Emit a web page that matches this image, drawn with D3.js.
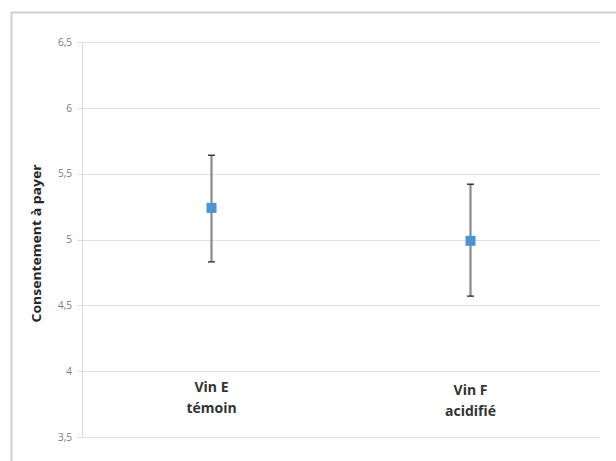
<!DOCTYPE html>
<html><head><meta charset="utf-8">
<script src="https://cdn.jsdelivr.net/npm/d3@7"></script>
<style>body{margin:0;background:#fff}</style>
</head><body>
<svg id="c" width="616" height="461"></svg>
<script>
const categories = [["Vin E","témoin"],["Vin F","acidifié"]];
const means = [5.24, 4.99];
const upper = [5.64, 5.42];
const lower = [4.83, 4.57];
const yTicks = [3.5, 4, 4.5, 5, 5.5, 6, 6.5];
const yTitle = "Consentement à payer";

const svg = d3.select("#c");
const m = {left: 82, right: 600, top: 42, bottom: 437};
const x = d3.scaleBand().domain(d3.range(categories.length)).range([m.left, m.right]);
const y = d3.scaleLinear().domain([3.5, 6.5]).range([m.bottom, m.top]);
const fmt = d => String(d).replace(".", ",");

// frame
svg.append("line").attr("x1",11.5).attr("x2",11.5).attr("y1",12).attr("y2",461).attr("stroke","#cfcfcf").attr("stroke-width",2);
svg.append("line").attr("x1",11).attr("x2",616).attr("y1",12.5).attr("y2",12.5).attr("stroke","#d0d0d0").attr("stroke-width",2);

// grid
svg.append("g").selectAll("line").data(yTicks).join("line")
  .attr("x1", m.left - 5).attr("x2", m.right)
  .attr("y1", d => Math.round(y(d)) + 0.5).attr("y2", d => Math.round(y(d)) + 0.5)
  .attr("stroke", "#e2e2e2").attr("stroke-width", 1.2);

// y axis
const ya = svg.append("g").attr("transform", `translate(${m.left},0)`)
  .call(d3.axisLeft(y).tickValues(yTicks).tickFormat(fmt).tickSize(0).tickPadding(10));
ya.select(".domain").attr("stroke", "#d9d9d9");
ya.selectAll("text").attr("font-family", "'Open Sans', sans-serif").attr("font-size", 10).attr("fill", "#7a7a7a");

// title
svg.append("text").attr("transform", `translate(41,${(m.top + m.bottom)/2 + 4}) rotate(-90)`)
  .attr("text-anchor", "middle").attr("font-family", "'Open Sans', sans-serif")
  .attr("font-weight", "bold").attr("font-size", 12).attr("fill", "#262626")
  .attr("textLength", 158).attr("lengthAdjust", "spacingAndGlyphs").text(yTitle);

// category labels
const cl = svg.append("g").selectAll("text").data(categories).join("text")
  .attr("text-anchor", "middle").attr("font-family", "'Open Sans', sans-serif")
  .attr("font-weight", "bold").attr("font-size", 14).attr("fill", "#333")
  .attr("transform", (d, i) => `translate(${x(i) + x.bandwidth()/2},${392 + i*3})`);
cl.selectAll("tspan").data(d => d).join("tspan").attr("x", 0).attr("dy", (d, j) => j ? 21 : 0).text(d => d);

// error bars
const eb = svg.append("g").selectAll("g").data(means).join("g")
  .attr("transform", (d, i) => `translate(${x(i) + x.bandwidth()/2},0)`);
eb.append("line").attr("y1", (d, i) => y(upper[i])).attr("y2", (d, i) => y(lower[i]))
  .attr("stroke", "#8a8a8a").attr("stroke-width", 2.2);
eb.append("line").attr("x1", -3.5).attr("x2", 3.5).attr("y1", (d, i) => y(upper[i])).attr("y2", (d, i) => y(upper[i]))
  .attr("stroke", "#222").attr("stroke-width", 1.3);
eb.append("line").attr("x1", -3.5).attr("x2", 3.5).attr("y1", (d, i) => y(lower[i])).attr("y2", (d, i) => y(lower[i]))
  .attr("stroke", "#222").attr("stroke-width", 1.3);
eb.append("rect").attr("x", -5).attr("y", d => y(d) - 5).attr("width", 10).attr("height", 10)
  .attr("fill", "#4a94d8");
</script>
</body></html>
